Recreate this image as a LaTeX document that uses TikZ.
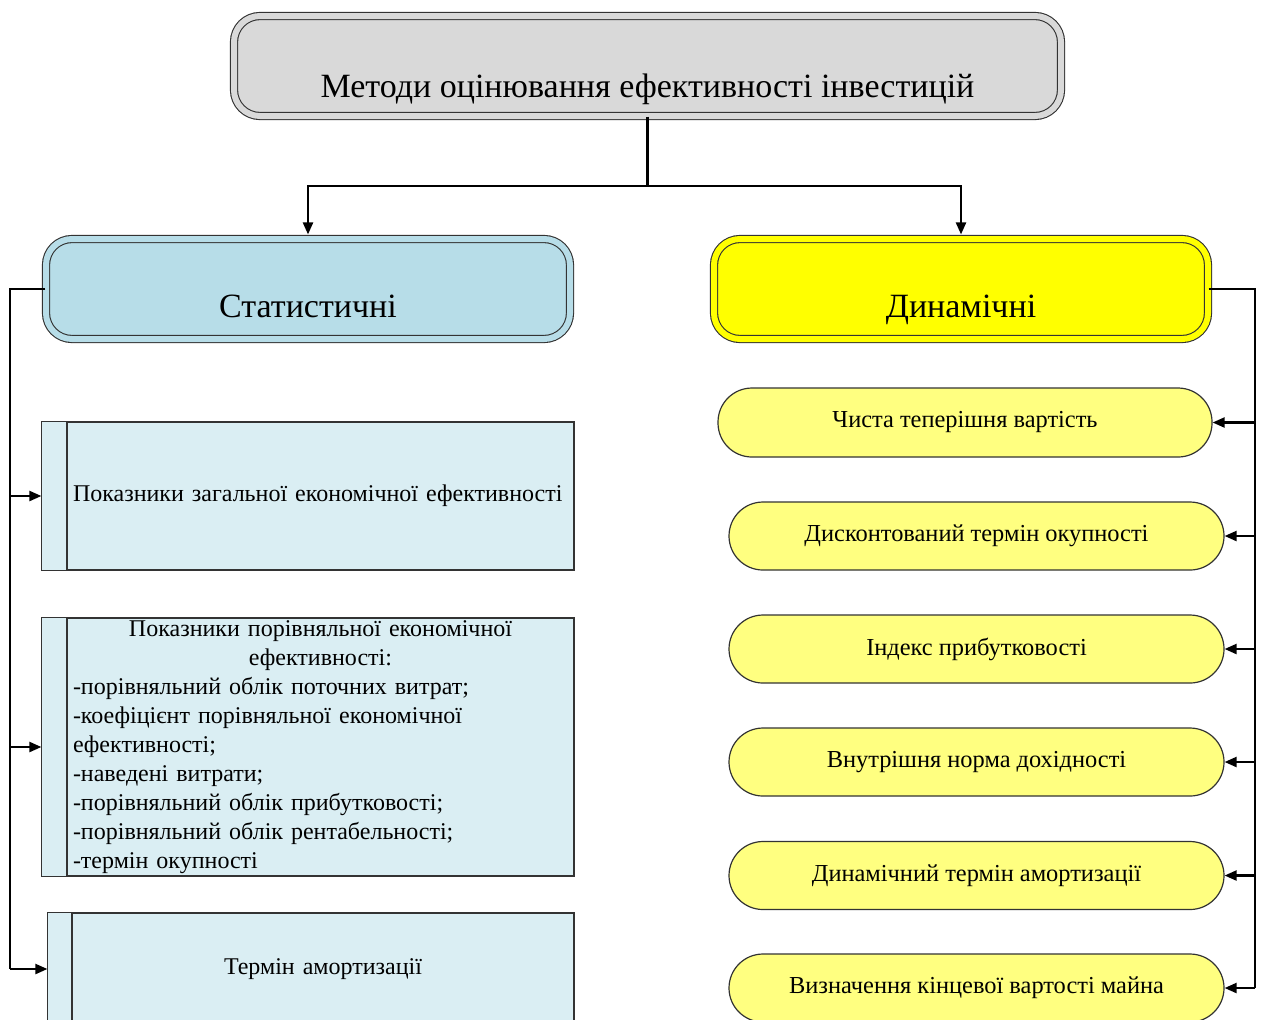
\documentclass[tikz,border=0pt]{standalone}
\usepackage{fontspec}
\setmainfont{Liberation Serif}
\usetikzlibrary{arrows.meta, positioning, calc}
\definecolor{TitleGray}{HTML}{D9D9D9}
\definecolor{StatBlue}{HTML}{B7DDE8}
\definecolor{PaleBlue}{HTML}{DAEEF3}
\definecolor{DynYellow}{HTML}{FFFF00}
\definecolor{PaleYellow}{HTML}{FFFF80}
\definecolor{EdgeGray}{HTML}{333333}

\tikzset{
  headbox/.style={rectangle, rounded corners=13pt, draw=EdgeGray, line width=0.55pt,
                  double=#1, double distance=3pt, fill=#1, inner sep=0pt,
                  text height=39pt, text depth=11pt, font=\fontsize{17}{20}\selectfont},
  infobox/.style={rectangle, draw=EdgeGray, line width=0.6pt, fill=PaleBlue,
                  inner xsep=3pt, inner ysep=0pt, font=\fontsize{12}{14.5}\selectfont},
  strip/.style={draw=EdgeGray, line width=0.6pt, fill=PaleBlue},
  pill/.style={rectangle, rounded corners=17pt, draw=EdgeGray, line width=0.6pt,
               fill=PaleYellow, minimum width=247.5pt, minimum height=34pt,
               font=\fontsize{12.2}{14}\selectfont},
  bus/.style={line width=1.1pt},
  link/.style={line width=1.1pt, -{Triangle[length=6pt,width=5pt]}},
}

\begin{document}
\begin{tikzpicture}[x=0.5pt, y=-0.5pt]
  \path[use as bounding box, fill=white] (0,0) rectangle (1262,1019);

  \node[headbox=TitleGray, minimum width=413.5pt, text height=40.5pt, text depth=9.5pt]
    (top) at (647.5,66) {Методи оцінювання ефективності інвестицій};
  \node[headbox=StatBlue, minimum width=262pt] (stat) at (308,289) {Статистичні};
  \node[headbox=DynYellow, minimum width=247pt] (dyn) at (961,289) {Динамічні};

  \node[infobox, text width=247.5pt, minimum height=74pt, align=left] (gen) at (320.5,496)
    {Показники загальної економічної ефективності};
  \node[infobox, text width=247.5pt, minimum height=129pt] (cmp) at (320.5,747)
    {\centering Показники порівняльної економічної\\ефективності:\par
     \raggedright
     -порівняльний облік поточних витрат;\\
     -коефіцієнт порівняльної економічної\\
     ефективності;\\
     -наведені витрати;\\
     -порівняльний облік прибутковості;\\
     -порівняльний облік рентабельності;\\
     -термін окупності};
  \node[infobox, text width=245pt, minimum height=56pt, align=center] (amort) at (323,969)
    {Термін амортизації};

  \draw[strip] (gen.north west) rectangle ([xshift=-12.5pt]gen.south west);
  \draw[strip] (cmp.north west) rectangle ([xshift=-12.5pt]cmp.south west);
  \draw[strip] (amort.north west) rectangle ([xshift=-12pt]amort.south west);
  \coordinate (s1) at ([xshift=-12.5pt]gen.west);
  \coordinate (s2) at ([xshift=-12.5pt]cmp.west);
  \coordinate (s3) at ([xshift=-12pt]amort.west);

  \node[pill, minimum width=247pt, minimum height=34.5pt] (npv) at (965,422.5) {Чиста теперішня вартість};
  \node[pill] (dpp) at (976.5,536) {Дисконтований термін окупності};
  \node[pill] (pi) at (976.5,649) {Індекс прибутковості};
  \node[pill] (irr) at (976.5,762) {Внутрішня норма дохідності};
  \node[pill] (dam) at (976.5,875.5) {Динамічний термін амортизації};
  \node[pill] (fv) at (976.5,988) {Визначення кінцевої вартості майна};

  \coordinate (split) at (647.5,186);
  \coordinate (lbus) at (10,289);
  \coordinate (rbus) at (1255,289);

  \draw[bus] (top.south) -- (split);
  \draw[link, shorten >=2pt] (split) -| (stat.north);
  \draw[link, shorten >=2pt] (split) -| (dyn.north);

  \draw[bus] (stat.west) -- (lbus) -- (lbus |- s3);
  \draw[link] (lbus |- s1) -- (s1);
  \draw[link] (lbus |- s2) -- (s2);
  \draw[link] (lbus |- s3) -- (s3);

  \draw[bus] (dyn.east) -- (rbus) -- (rbus |- fv.east);
  \draw[link] (rbus |- npv.east) -- (npv.east);
  \draw[link] (rbus |- dpp.east) -- (dpp.east);
  \draw[link] (rbus |- pi.east) -- (pi.east);
  \draw[link] (rbus |- irr.east) -- (irr.east);
  \draw[link] (rbus |- dam.east) -- (dam.east);
  \draw[link] (rbus |- fv.east) -- (fv.east);
\end{tikzpicture}
\end{document}
